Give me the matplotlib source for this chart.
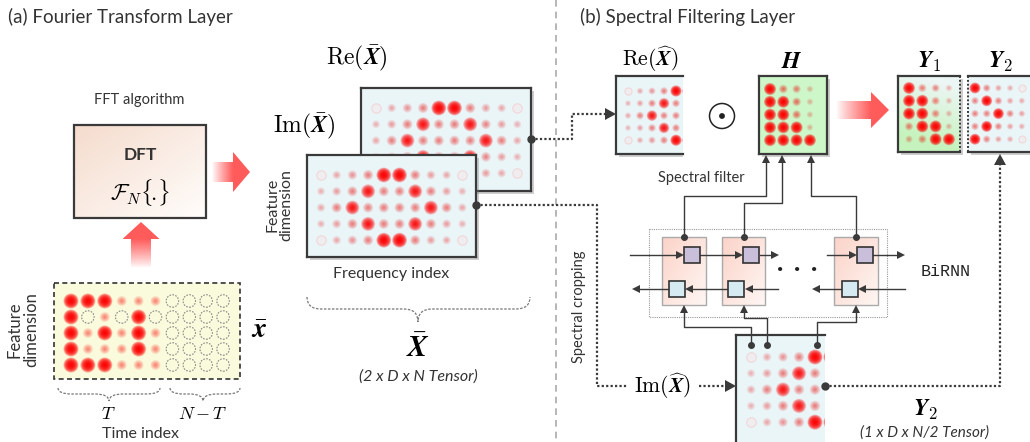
import numpy as np
import matplotlib
matplotlib.use("Agg")
import matplotlib.pyplot as plt
import matplotlib.colors as mcolors
from matplotlib.patches import Rectangle, Polygon, Circle, PathPatch
from matplotlib.path import Path

# cell intensities of each tensor (0 = empty slot)
TIME_VALUES = [
    [1.0, 1.0, 1.0, 0.4, 0.4, 0.4, 0, 0, 0, 0],
    [1.0, 0, 0.4, 0, 1.0, 0, 0, 0, 0, 0],
    [1.0, 0.4, 1.0, 0.4, 1.0, 0.4, 0, 0, 0, 0],
    [1.0, 0.4, 0.4, 0.4, 1.0, 0.4, 0, 0, 0, 0],
    [1.0, 1.0, 1.0, 0.4, 0.4, 0.4, 0, 0, 0, 0],
]
RE_XBAR = [
    [0, 0.25, 0.35, 0.45, 1.0, 1.0, 0.45, 0.3, 0.25, 0],
    [0.2, 0.3, 0.45, 0.9, 0.45, 0.45, 0.9, 0.4, 0.3, 0.2],
    [0.25, 0.45, 0.9, 0.45, 0.45, 0.45, 0.45, 0.9, 0.45, 0.25],
    [0.2, 0.3, 0.45, 0.9, 0.45, 0.45, 0.9, 0.4, 0.3, 0.2],
    [0, 0.25, 0.35, 0.45, 1.0, 1.0, 0.45, 0.3, 0.25, 0],
]
IM_XBAR = [
    [0, 0.25, 0.35, 0.45, 1.0, 1.0, 0.45, 0.3, 0.25, 0],
    [0.2, 0.3, 0.45, 0.9, 0.45, 0.45, 0.9, 0.45, 0.3, 0.2],
    [0.25, 0.45, 0.9, 0.45, 0.45, 0.45, 0.45, 0.9, 0.45, 0.25],
    [0.2, 0.3, 0.45, 0.9, 0.45, 0.45, 0.9, 0.45, 0.3, 0.2],
    [0, 0.25, 0.35, 0.45, 1.0, 1.0, 0.45, 0.3, 0.25, 0],
]
RE_XHAT = [
    [0, 0.25, 0.35, 0.45, 1.0, 1.0],
    [0.2, 0.3, 0.45, 0.9, 0.45, 0.45],
    [0.25, 0.45, 0.9, 0.45, 0.45, 0.45],
    [0.2, 0.3, 0.45, 0.9, 0.45, 0.45],
    [0, 0.25, 0.35, 0.45, 1.0, 1.0],
]
IM_XHAT = [
    [0, 0.25, 0.35, 0.45, 1.0, 1.0],
    [0.2, 0.3, 0.45, 0.9, 0.45, 0.45],
    [0.25, 0.45, 0.9, 0.45, 0.45, 0.45],
    [0.2, 0.3, 0.45, 0.9, 0.45, 0.45],
    [0, 0.25, 0.35, 0.45, 1.0, 1.0],
]
H_VALUES = [
    [1.0, 0.5, 0.45, 0.2],
    [1.0, 1.0, 0.5, 0.2],
    [1.0, 1.0, 0.5, 0.2],
    [1.0, 1.0, 1.0, 0.2],
    [1.0, 1.0, 1.0, 1.0],
]
Y1_VALUES = [
    [1.0, 0.45, 0.4, 0.2],
    [1.0, 1.0, 0.45, 0.2],
    [1.0, 1.0, 0.45, 0.2],
    [0.45, 1.0, 1.0, 0.2],
    [0.3, 0.45, 1.0, 1.0],
]
Y2_VALUES = [
    [1.0, 0.45, 0.3, 0.25, 0],
    [0.45, 1.0, 0.45, 0.3, 0.25],
    [0.45, 0.45, 1.0, 0.45, 0.3],
    [0.45, 1.0, 0.45, 0.3, 0.25],
    [1.0, 0.45, 0.3, 0.25, 0],
]

DARK = '#3a3a3a'
TXT = '#333333'
RED = (1.0, 0.36, 0.36)
BLUE_FACE = '#eaf5f8'

plt.rcParams['font.family'] = ['Lato', 'DejaVu Sans']
plt.rcParams['mathtext.fontset'] = 'cm'


def draw_blobs(ax, values, cx0, cy0, dx, dy, clip=None, dashed_empty=False, z=3):
    """ draws soft red spots on a grid, empty cells as thin circles """
    vals = np.array(values, dtype=float)
    rows, cols = vals.shape
    xs, ys = np.meshgrid(cx0 + dx * np.arange(cols), cy0 + dy * np.arange(rows))
    xs, ys, vals = xs.ravel(), ys.ravel(), vals.ravel()
    full = vals > 0
    step = min(dx, dy)
    diam = step * (0.45 + 0.5 * vals[full]) * 0.72
    peak = np.clip(0.08 + 0.92 * vals[full], 0, 0.97)
    n = 14
    alpha = 1 - (1 - peak) ** (1.0 / n)
    rgba = np.zeros((full.sum(), 4))
    rgba[:, 0] = 1.0
    rgba[:, 3] = alpha
    for k in range(n):
        frac = 1 - k / n
        sc = ax.scatter(xs[full], ys[full], s=(diam * frac) ** 2, c=rgba,
                        linewidths=0, zorder=z)
        if clip is not None:
            sc.set_clip_path(clip)

    # empty slots
    if dashed_empty:
        sc = ax.scatter(xs[~full], ys[~full], s=(step * 0.78 * 0.72) ** 2,
                        facecolors='none', edgecolors='#8a8a8a', linewidths=0.8,
                        linestyle=(0, (1.5, 1.2)), zorder=z)
    else:
        sc = ax.scatter(xs[~full], ys[~full], s=(step * 0.6 * 0.72) ** 2,
                        facecolors=(1, 0.85, 0.85, 0.25), edgecolors=(1, 0.6, 0.6, 0.3),
                        linewidths=0.8, zorder=z)
    if clip is not None:
        sc.set_clip_path(clip)


def gradient_rect(ax, x0, y0, x1, y1, c0, c1, z=1):
    """ fills a rectangle with a diagonal colour gradient """
    u = np.linspace(0, 1, 64)
    t = (u[None, :] + u[:, None]) / 2
    a = np.array(mcolors.to_rgb(c0))
    b = np.array(mcolors.to_rgb(c1))
    img = a + (b - a) * t[..., None]
    ax.imshow(img, extent=(x0, x1, y1, y0), origin='upper', aspect='auto',
              interpolation='bilinear', zorder=z)


def matrix(ax, x0, y0, x1, y1, face, z=2, edges='ltrb', dotted=''):
    """ draws a matrix panel and returns its clip rectangle """
    # drop shadow, only on the bottom when the right side is cropped
    sw = (x1 - x0) if 'r' in edges else (x1 - x0 - 3)
    ax.add_patch(Rectangle((x0 + 3, y0 + 3), sw, y1 - y0, color='#777777',
                           alpha=0.35, lw=0, zorder=z))
    rect = Rectangle((x0, y0), x1 - x0, y1 - y0, facecolor=face, lw=0, zorder=z + 0.1)
    ax.add_patch(rect)
    sides = {'l': ([x0, x0], [y0, y1]), 't': ([x0, x1], [y0, y0]),
             'r': ([x1, x1], [y0, y1]), 'b': ([x0, x1], [y1, y1])}
    for s in edges:
        style = (0, (1, 1)) if s in dotted else '-'
        lw = 1.4 if s in dotted else 1.6
        ax.plot(*sides[s], color=DARK, lw=lw, ls=style, zorder=z + 2,
                solid_capstyle='projecting')
    return rect


def head(ax, x, y, direction, length=9, half=5, color=DARK, z=6):
    """ filled triangular arrow head with its tip at (x, y) """
    d = {'right': (1, 0), 'left': (-1, 0), 'up': (0, -1), 'down': (0, 1)}[direction]
    bx, by = x - d[0] * length, y - d[1] * length
    px, py = -d[1], d[0]
    pts = [(x, y), (bx + px * half, by + py * half), (bx - px * half, by - py * half)]
    ax.add_patch(Polygon(pts, closed=True, color=color, lw=0, zorder=z))


def gradient_arrow(ax, tail, tip, sh, hh, hl, z=4):
    """ thick red arrow fading out towards its tail """
    tx, ty = tail
    ex, ey = tip
    L = np.hypot(ex - tx, ey - ty)
    d = np.array([(ex - tx) / L, (ey - ty) / L])
    p = np.array([-d[1], d[0]])
    local = [(0, -sh), (L - hl, -sh), (L - hl, -hh), (L, 0), (L - hl, hh), (L - hl, sh), (0, sh)]
    pts = [np.array(tail) + a * d + b * p for a, b in local]
    poly = Polygon(pts, closed=True, facecolor='none', edgecolor='none')
    ax.add_patch(poly)
    ramp = np.clip(np.linspace(0, L, 128) / (L - hl), 0, 1) ** 0.9
    if abs(d[0]) > 0.5:
        img = np.zeros((1, 128, 4))
        img[..., :3] = RED
        img[0, :, 3] = ramp
        ext = (tx, ex, ty + hh, ty - hh)
    else:
        img = np.zeros((128, 1, 4))
        img[..., :3] = RED
        img[:, 0, 3] = ramp[::-1]
        ext = (tx - hh, tx + hh, ty, ey)
    im = ax.imshow(img, extent=ext, origin='upper', aspect='auto',
                   interpolation='bilinear', zorder=z)
    im.set_clip_path(poly)


def brace(ax, x0, x1, y0, ymid, ytip, xc=None):
    """ dashed curly brace opening upwards """
    if xc is None:
        xc = (x0 + x1) / 2
    q = min(14, (x1 - x0) / 5)
    verts = [(x0, y0), (x0, ymid), (x0 + q, ymid), (xc - q, ymid), (xc, ymid), (xc, ytip),
             (xc, ymid), (xc + q, ymid), (x1 - q, ymid), (x1, ymid), (x1, y0)]
    codes = [Path.MOVETO, Path.CURVE3, Path.CURVE3, Path.LINETO, Path.CURVE3, Path.CURVE3,
             Path.CURVE3, Path.CURVE3, Path.LINETO, Path.CURVE3, Path.CURVE3]
    ax.add_patch(PathPatch(Path(verts, codes), facecolor='none', edgecolor='#777777',
                           lw=0.9, ls=(0, (2, 1.2)), zorder=3))


def dotted(ax, xs, ys, z=5):
    ax.plot(xs, ys, color=DARK, lw=1.6, ls=(0, (1, 1)), zorder=z)


def solid(ax, xs, ys, z=5):
    ax.plot(xs, ys, color=DARK, lw=1.0, zorder=z)


def fourier_part(ax):
    """ left half: DFT box, time series tensor and spectrum tensors """
    ax.text(8, 17, "(a) Fourier Transform Layer", fontsize=13.5, color=TXT, va='center')

    # DFT block
    ax.text(139, 100, "FFT algorithm", fontsize=10.5, color=TXT, ha='center', va='center')
    gradient_rect(ax, 74, 125, 206, 218, '#f5dccd', '#fffdfb', z=2)
    ax.add_patch(Rectangle((74, 125), 132, 93, facecolor='none', edgecolor=DARK, lw=1.6, zorder=3))
    ax.text(140, 155, "DFT", fontsize=12.5, fontweight='bold', color='#333333',
            ha='center', va='center')
    ax.text(140, 192, r"$\mathcal{F}_N\{\!.\!\}$", fontsize=16, ha='center', va='center')
    gradient_arrow(ax, (212, 172), (250, 172), 10, 20, 17)
    gradient_arrow(ax, (141, 268), (141, 222), 10, 18.5, 17)

    # input time series
    ax.add_patch(Rectangle((54, 283), 186, 96, facecolor='#fafadc', edgecolor='#333333',
                           lw=1.2, ls=(0, (3, 2)), zorder=2))
    draw_blobs(ax, TIME_VALUES, 71, 301, 16.9, 16, dashed_empty=True)
    ax.text(23, 330, "Feature\ndimension", rotation=90, fontsize=12, color=TXT,
            ha='center', va='center', linespacing=1.0)
    ax.text(259, 330, r"$\bar{\boldsymbol{x}}$", fontsize=20, ha='center', va='center')
    brace(ax, 58, 160, 388, 394, 401, xc=109)
    brace(ax, 170, 240, 388, 394, 401, xc=203)
    ax.text(108, 414, r"$T$", fontsize=13, ha='center', va='center')
    ax.text(203, 414, r"$N-T$", fontsize=13, ha='center', va='center')
    ax.text(140, 434, "Time index", fontsize=11.5, color=TXT, ha='center', va='center')

    # spectrum: real part behind imaginary part
    clip = matrix(ax, 361, 88, 531, 191, BLUE_FACE, z=2)
    draw_blobs(ax, RE_XBAR, 376, 108, 15.7, 16.3, clip=clip, z=3)
    clip = matrix(ax, 307, 155, 476, 257, BLUE_FACE, z=5)
    draw_blobs(ax, IM_XBAR, 321, 175, 15.7, 16.3, clip=clip, z=6)
    ax.text(357, 58, r"$\mathrm{Re}(\bar{\boldsymbol{X}})$", fontsize=17, ha='center', va='center')
    ax.text(304, 126, r"$\mathrm{Im}(\bar{\boldsymbol{X}})$", fontsize=17, ha='center', va='center')
    ax.text(279, 205, "Feature\ndimension", rotation=90, fontsize=11.5, color=TXT,
            ha='center', va='center', linespacing=1.0)
    ax.text(391, 274, "Frequency index", fontsize=11.5, color=TXT, ha='center', va='center')
    brace(ax, 307, 530, 297, 309, 322, xc=418)
    ax.text(418, 348, r"$\bar{\boldsymbol{X}}$", fontsize=22, ha='center', va='center')
    ax.text(418, 377, "(2 x D x N Tensor)", fontsize=11.5, style='italic', color=TXT,
            ha='center', va='center')

    # connectors leaving the spectrum
    dotted(ax, [531, 572, 572, 607], [139, 139, 114, 114])
    head(ax, 616, 114, 'right', length=11, half=6)
    ax.plot(531, 139, 'o', ms=5, color=DARK, zorder=8)
    dotted(ax, [476, 597, 597, 627], [205, 205, 386, 386])
    ax.plot(476, 205, 'o', ms=5, color=DARK, zorder=8)


def filtering_part(ax):
    """ right half: spectral filter, BiRNN and outputs """
    ax.text(580, 17, "(b) Spectral Filtering Layer", fontsize=13.5, color=TXT, va='center')

    # cropped real part
    clip = matrix(ax, 616, 76, 683, 154, BLUE_FACE, edges='ltb')
    draw_blobs(ax, RE_XHAT, 628, 91, 12, 12.3, clip=clip)
    ax.text(650, 59, r"$\mathrm{Re}(\widehat{\boldsymbol{X}})$", fontsize=15.5,
            ha='center', va='center')

    # element-wise product
    ax.add_patch(Circle((722, 116), 12.5, facecolor='none', edgecolor='#222222', lw=1.1, zorder=4))
    ax.add_patch(Circle((722, 116), 2.2, color='#222222', zorder=4))

    # filter H
    clip = matrix(ax, 759, 76, 827, 154, '#cdf6c9')
    draw_blobs(ax, H_VALUES, 770, 89, 13.3, 12.8, clip=clip)
    ax.text(792, 62, r"$\boldsymbol{H}$", fontsize=17, ha='center', va='center')

    gradient_arrow(ax, (836, 110), (889, 110), 9, 18, 18)

    # outputs
    ax.add_patch(Rectangle((901, 79), 62, 76, color='#777777', alpha=0.35, lw=0, zorder=1.5))
    u = np.linspace(0, 1, 64)
    c_top = np.array(mcolors.to_rgb('#ecf6f4'))
    c_bot = np.array(mcolors.to_rgb('#c6f3bd'))
    t = np.clip(u[:, None] * 1.2 - u[None, :] * 0.3 + 0.1, 0, 1)
    ax.imshow(c_top + (c_bot - c_top) * t[..., None], extent=(898, 960, 152, 76),
              origin='upper', aspect='auto', interpolation='bilinear', zorder=2)
    clip = Rectangle((898, 76), 62, 76, facecolor='none', lw=0, zorder=2)
    ax.add_patch(clip)
    for xs, ys in [([898, 898], [76, 152]), ([898, 960], [76, 76]), ([898, 960], [152, 152])]:
        ax.plot(xs, ys, color=DARK, lw=1.6, zorder=4, solid_capstyle='projecting')
    ax.plot([960, 960], [76, 152], color=DARK, lw=1.4, ls=(0, (1, 1)), zorder=4)
    draw_blobs(ax, Y1_VALUES, 909, 88, 13.3, 12.8, clip=clip)
    ax.text(929, 62, r"$\boldsymbol{Y}_1$", fontsize=17, ha='center', va='center')

    clip = matrix(ax, 968, 76, 1040, 152, BLUE_FACE, edges='ltb', dotted='l')
    draw_blobs(ax, Y2_VALUES, 975, 88, 11.7, 12.8, clip=clip)
    ax.text(1000, 62, r"$\boldsymbol{Y}_2$", fontsize=17, ha='center', va='center')

    ax.text(701, 178, "Spectral filter", fontsize=10.5, color=TXT, ha='center', va='center')

    # BiRNN block
    ax.add_patch(Rectangle((649, 229), 238, 88, facecolor='none', edgecolor='#999999',
                           lw=0.8, ls=(0, (1, 1)), zorder=2))
    for cx0, cx1 in [(662, 706), (722, 765), (834, 878)]:
        gradient_rect(ax, cx0, 237, cx1, 305, '#fbd3c8', '#fff6f3', z=3)
        ax.add_patch(Rectangle((cx0, 237), cx1 - cx0, 68, facecolor='none',
                               edgecolor='#aaaaaa', lw=1.0, zorder=3.5))
    for fx in [684, 743, 857]:
        ax.add_patch(Rectangle((fx, 247), 16, 16, facecolor='#cabfdb', edgecolor='#333333',
                               lw=1.2, zorder=6))
    for bx in [669, 728, 842]:
        ax.add_patch(Rectangle((bx, 281), 16, 16, facecolor='#d5eaf1', edgecolor='#333333',
                               lw=1.2, zorder=6))

    # forward and backward recurrences
    for x0, x1 in [(630, 684), (700, 743), (760, 779), (827, 857), (873, 905)]:
        solid(ax, [x0, x1 - 6], [255, 255])
        head(ax, x1, 255, 'right', length=8, half=4)
    for x0, x1 in [(669, 632), (728, 685), (778, 745), (842, 812), (905, 858)]:
        solid(ax, [x0, x1 + 6], [289, 289])
        head(ax, x1, 289, 'left', length=8, half=4)
    ax.text(797, 270, "\u00b7  \u00b7  \u00b7", fontsize=16, fontweight='bold', color='#222222',
            ha='center', va='center')
    ax.text(946, 271, "BiRNN", fontsize=12, family='Liberation Mono', color='#222222',
            ha='center', va='center')

    # BiRNN outputs to H
    for xs, ys in [([684, 684, 766, 766], [237, 196, 196, 160]),
                   ([744, 744, 782, 782], [237, 203, 203, 160]),
                   ([856, 856, 811, 811], [237, 196, 196, 160])]:
        solid(ax, xs, ys)
        head(ax, xs[-1], 155, 'up', length=8, half=4)
        ax.plot(xs[0], ys[0], 'o', ms=4, color=DARK, zorder=8)

    # cropped imaginary part feeding the BiRNN
    clip = matrix(ax, 736, 335, 825, 460, BLUE_FACE, z=2, edges='lt')
    draw_blobs(ax, IM_XHAT, 751, 357, 16, 16.3, clip=clip)
    for xs, ys in [([751, 751, 684, 684], [345, 327, 327, 311]),
                   ([767, 767, 744, 744], [345, 318, 318, 311]),
                   ([817, 817, 856, 856], [345, 322, 322, 311])]:
        solid(ax, xs, ys)
        head(ax, xs[-1], 305, 'up', length=8, half=4)
        ax.plot(xs[0], ys[0], 'o', ms=4, color=DARK, zorder=8)

    ax.text(579, 307, "Spectral cropping", rotation=90, fontsize=10.5, color=TXT,
            ha='center', va='center')
    ax.text(662, 386, r"$\mathrm{Im}(\widehat{\boldsymbol{X}})$", fontsize=15.5,
            ha='center', va='center')
    dotted(ax, [699, 726], [386, 386])
    head(ax, 736, 386, 'right', length=11, half=6)

    # imaginary part goes straight to Y2
    dotted(ax, [825, 1000, 1000], [386, 386, 165])
    head(ax, 1000, 154, 'up', length=11, half=6)
    ax.plot(825, 386, 'o', ms=5, color=DARK, zorder=8)
    ax.text(925, 410, r"$\boldsymbol{Y}_2$", fontsize=17, ha='center', va='center')
    ax.text(924, 433, "(1 x D x N/2 Tensor)", fontsize=11, style='italic', color=TXT,
            ha='center', va='center')


def main():
    fig = plt.figure(figsize=(10.30, 4.42), dpi=100)
    ax = fig.add_axes([0, 0, 1, 1])

    # section divider
    ax.plot([556, 556], [0, 442], color='#aaaaaa', lw=1.2, ls=(0, (4, 3)), zorder=0)

    fourier_part(ax)
    filtering_part(ax)

    ax.set_xlim(0, 1030)
    ax.set_ylim(442, 0)
    ax.axis('off')
    fig.savefig('out.png', dpi=100, facecolor='white')


if __name__ == "__main__":
    main()
